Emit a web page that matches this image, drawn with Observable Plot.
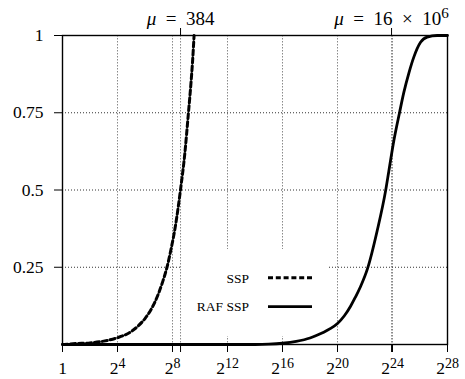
<!DOCTYPE html>
<html><head><meta charset="utf-8">
<script src="https://cdn.jsdelivr.net/npm/d3@7"></script>
<script src="https://cdn.jsdelivr.net/npm/@observablehq/plot@0.6"></script>
<style>
body{margin:0;background:#fff;}
</style></head><body><div id="chart"></div>
<script>
// exponents (log2 of x) and CDF values
const sspExp = [0, 1, 2, 3, 4, 5, 5.5, 6, 6.5, 7, 7.3, 7.6, 7.9, 8.2, 8.58, 8.9, 9.14, 9.35, 9.45, 9.57];
const sspCdf = [0, 0.003, 0.005, 0.011, 0.022, 0.042, 0.06, 0.084, 0.118, 0.167, 0.205, 0.25, 0.31, 0.38, 0.5, 0.62, 0.74, 0.85, 0.91, 1.0];
const rafExp = [0, 14, 15, 16, 17, 18, 18.5, 19, 19.5, 20, 20.5, 20.95, 21.3, 21.67, 22.2, 22.89, 23.5, 23.73, 24.1, 24.51, 24.82, 25.2, 25.55, 26.04, 26.52, 27.25, 28];
const rafCdf = [0, 0, 0.001, 0.004, 0.01, 0.021, 0.03, 0.04, 0.052, 0.068, 0.093, 0.124, 0.153, 0.187, 0.248, 0.369, 0.498, 0.56, 0.66, 0.75, 0.815, 0.88, 0.93, 0.978, 0.995, 1, 1];
const xTickExp = [0, 4, 8, 12, 16, 20, 24, 28];
const yTicks = [0.25, 0.5, 0.75, 1];
const means = [384, 16e6];
const meanLabels = ["μ\u2002=\u2002384", "μ\u2002=\u200216\u2002×\u200210^6"];
const seriesNames = ["SSP", "RAF SSP"];

const ssp = sspExp.map((e, i) => ({x: 2 ** e, y: sspCdf[i]}));
const raf = rafExp.map((e, i) => ({x: 2 ** e, y: rafCdf[i]}));
const xTicks = xTickExp.map(e => 2 ** e);
const gridX = [...xTicks.slice(1, -1), ...means];
const FONT = "Liberation Serif";

const plot = Plot.plot({
  width: 465, height: 379,
  marginLeft: 62, marginRight: 18, marginTop: 35, marginBottom: 35,
  style: {fontFamily: FONT, fontSize: "17.5px", color: "#000", background: "#fff"},
  x: {type: "log", base: 2, domain: [1, 2 ** 28]},
  y: {domain: [0, 1]},
  marks: [
    Plot.ruleX(gridX, {stroke: "#8a8a8a", strokeWidth: 1, strokeDasharray: "1.5,1.5"}),
    Plot.ruleY(yTicks.slice(0, -1), {stroke: "#333", strokeWidth: 1, strokeDasharray: "1,2"}),
    Plot.line(ssp, {x: "x", y: "y", stroke: "#000", strokeWidth: 3, strokeDasharray: "5,3", curve: "monotone-x"}),
    Plot.line(raf, {x: "x", y: "y", stroke: "#000", strokeWidth: 2.8, curve: "monotone-x"}),
    Plot.frame({stroke: "#000", strokeWidth: 1.4}),
    Plot.axisY({ticks: yTicks, tickSize: 8, tickPadding: 11, tickFormat: d => String(d), label: null, fontFamily: FONT}),
    Plot.axisX({anchor: "bottom", ticks: [...xTicks, ...means], tickSize: 8, tickPadding: 9, fontFamily: FONT,
      tickFormat: d => means.includes(d) ? "" : (d === 1 ? "1" : "2^" + Math.round(Math.log2(d))), label: null}),
    Plot.axisX({anchor: "top", ticks: means, tickSize: 8, tickPadding: 3, fontFamily: FONT,
      tickFormat: d => d === means[0] ? meanLabels[0] : meanLabels[1], label: null})
  ]
});

// rich text: italic mu, superscripts
function rich(el) {
  const s = el.textContent;
  if (!s.includes("^") && !s.includes("μ")) return;
  const t = d3.select(el);
  t.text(null);
  const m = s.match(/^(.*?)\^(\d+)$/);
  const base = m ? m[1] : s;
  const sup = m ? m[2] : null;
  base.split("μ").forEach((p, i) => {
    if (i > 0) t.append("tspan").attr("font-style", "italic").text("μ");
    if (p) t.append("tspan").text(p);
  });
  if (sup) t.append("tspan").attr("dy", "-0.45em").style("font-size", "0.8em").text(sup);
}
d3.select(plot).selectAll("text").each(function() {
  const isTop = this.textContent.includes("μ");
  rich(this);
  this.setAttribute("font-family", FONT);
  this.style.setProperty("font-family", FONT, "important");
  this.style.setProperty("font-size", isTop ? "19px" : "17.5px", "important");
});

// legend box (drawn over the grid, under the curves)
const lg = d3.create("svg:g");
lg.append("rect").attr("x", 181.5).attr("y", 249).attr("width", 147).attr("height", 87).attr("fill", "#fff");
const rows = [{y: 282.5, ly: 277.7, dash: "5,2.8"}, {y: 310.5, ly: 306.7, dash: null}];
rows.forEach((r, i) => {
  lg.append("text").attr("x", 249).attr("y", r.y).attr("text-anchor", "end").attr("fill", "#000")
    .style("font-family", FONT).style("font-size", "13.5px").text(seriesNames[i]);
  const ln = lg.append("line").attr("x1", 268).attr("x2", 312).attr("y1", r.ly).attr("y2", r.ly)
    .attr("stroke", "#000").attr("stroke-width", i === 0 ? 3 : 2.8);
  if (r.dash) ln.attr("stroke-dasharray", r.dash);
});
const firstLine = plot.querySelector("g[aria-label='line']");
plot.insertBefore(lg.node(), firstLine);

document.getElementById("chart").appendChild(plot);
</script>
</body></html>
